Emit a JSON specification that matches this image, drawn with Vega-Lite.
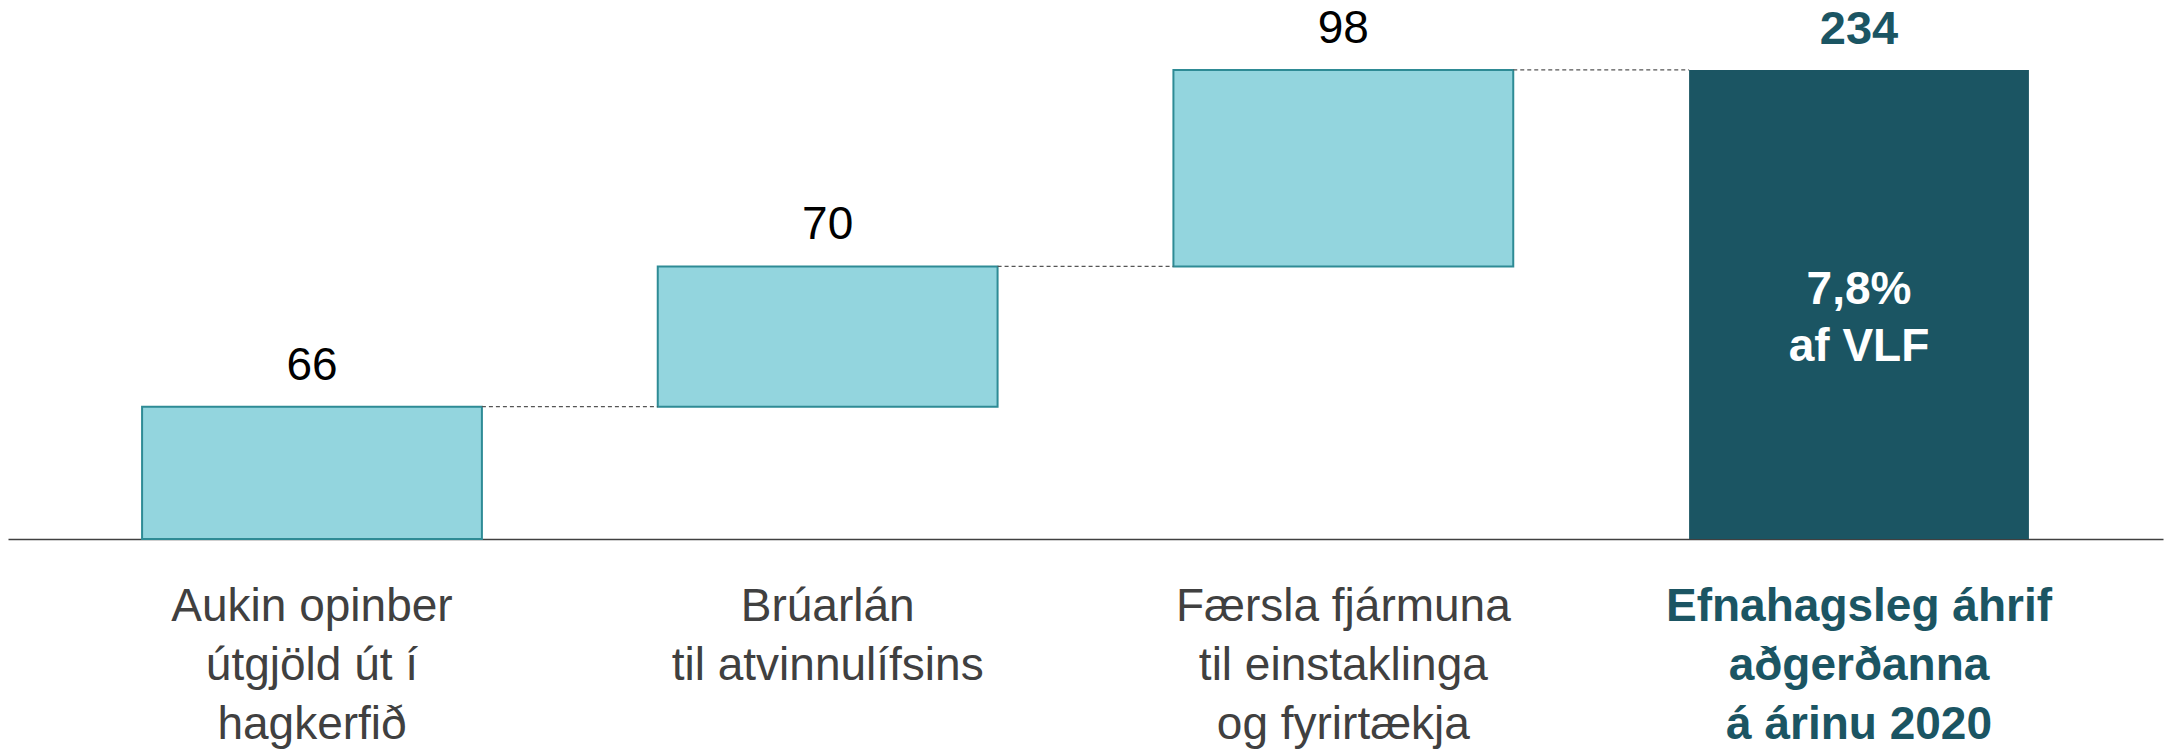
{
  "$schema": "https://vega.github.io/schema/vega-lite/v6.json",
  "width": 2155,
  "height": 539,
  "autosize": {"type": "none"},
  "padding": {"left": 8, "top": 0, "right": 14, "bottom": 212},
  "background": "white",
  "config": {"view": {"stroke": null}, "font": "Liberation Sans"},
  "data": {
    "values": [
      {"cat": "Aukin opinber|útgjöld út í|hagkerfið", "start": 0, "end": 66, "value": 66, "kind": "step"},
      {"cat": "Brúarlán|til atvinnulífsins", "start": 66, "end": 136, "value": 70, "kind": "step"},
      {"cat": "Færsla fjármuna|til einstaklinga|og fyrirtækja", "start": 136, "end": 234, "value": 98, "kind": "step"},
      {"cat": "Efnahagsleg áhrif|aðgerðanna|á árinu 2020", "start": 0, "end": 234, "value": 234, "kind": "total", "note": ["7,8%", "af VLF"]}
    ]
  },
  "transform": [
    {"window": [{"op": "lead", "field": "cat", "as": "next"}]},
    {"calculate": "(datum.start + datum.end) / 2", "as": "mid"}
  ],
  "encoding": {
    "x": {
      "field": "cat",
      "type": "nominal",
      "sort": null,
      "scale": {"paddingInner": 0.341, "paddingOuter": 0.26},
      "axis": {
        "title": null,
        "labelExpr": "split(datum.label, '|')",
        "labelAngle": 0,
        "labelFont": "Liberation Sans",
        "labelFontSize": 46,
        "labelLineHeight": 59,
        "labelPadding": 45,
        "labelLimit": 0,
        "labelColor": {"condition": {"test": "indexof(datum.label, 'Efnahagsleg') == 0", "value": "#1B5563"}, "value": "#404040"},
        "labelFontWeight": {"condition": {"test": "indexof(datum.label, 'Efnahagsleg') == 0", "value": "bold"}, "value": "normal"},
        "ticks": false,
        "domainColor": "#404040",
        "domainWidth": 1.5
      }
    }
  },
  "layer": [
    {
      "transform": [{"filter": "datum.kind == 'step'"}],
      "mark": {"type": "bar", "fill": "#93D5DE", "stroke": "#2E8B95", "strokeWidth": 2},
      "encoding": {
        "y": {"field": "start", "type": "quantitative", "scale": {"domain": [0, 268.9], "nice": false}, "axis": null},
        "y2": {"field": "end"}
      }
    },
    {
      "transform": [{"filter": "datum.kind == 'total'"}],
      "mark": {"type": "bar", "fill": "#1B5563"},
      "encoding": {
        "y": {"field": "start", "type": "quantitative"},
        "y2": {"field": "end"}
      }
    },
    {
      "transform": [{"filter": "datum.next != null"}],
      "mark": {"type": "rule", "color": "#555555", "strokeWidth": 1.2, "strokeDash": [4, 3]},
      "encoding": {
        "x": {"field": "cat", "type": "nominal", "sort": null, "bandPosition": 1},
        "x2": {"field": "next", "bandPosition": 0},
        "y": {"field": "end", "type": "quantitative"}
      }
    },
    {
      "transform": [{"filter": "datum.kind == 'step'"}],
      "mark": {"type": "text", "baseline": "alphabetic", "dy": -27, "fontSize": 46, "color": "#000000", "font": "Liberation Sans"},
      "encoding": {
        "y": {"field": "end", "type": "quantitative"},
        "text": {"field": "value", "type": "quantitative"}
      }
    },
    {
      "transform": [{"filter": "datum.kind == 'total'"}],
      "mark": {"type": "text", "baseline": "alphabetic", "dy": -26, "fontSize": 47, "fontWeight": "bold", "color": "#1B5563", "font": "Liberation Sans"},
      "encoding": {
        "y": {"field": "end", "type": "quantitative"},
        "text": {"field": "value", "type": "quantitative"}
      }
    },
    {
      "transform": [{"filter": "datum.kind == 'total'"}],
      "mark": {"type": "text", "baseline": "alphabetic", "fontSize": 46, "fontWeight": "bold", "color": "#FFFFFF", "lineHeight": 57, "font": "Liberation Sans"},
      "encoding": {
        "y": {"field": "mid", "type": "quantitative"},
        "text": {"field": "note"}
      }
    }
  ]
}
